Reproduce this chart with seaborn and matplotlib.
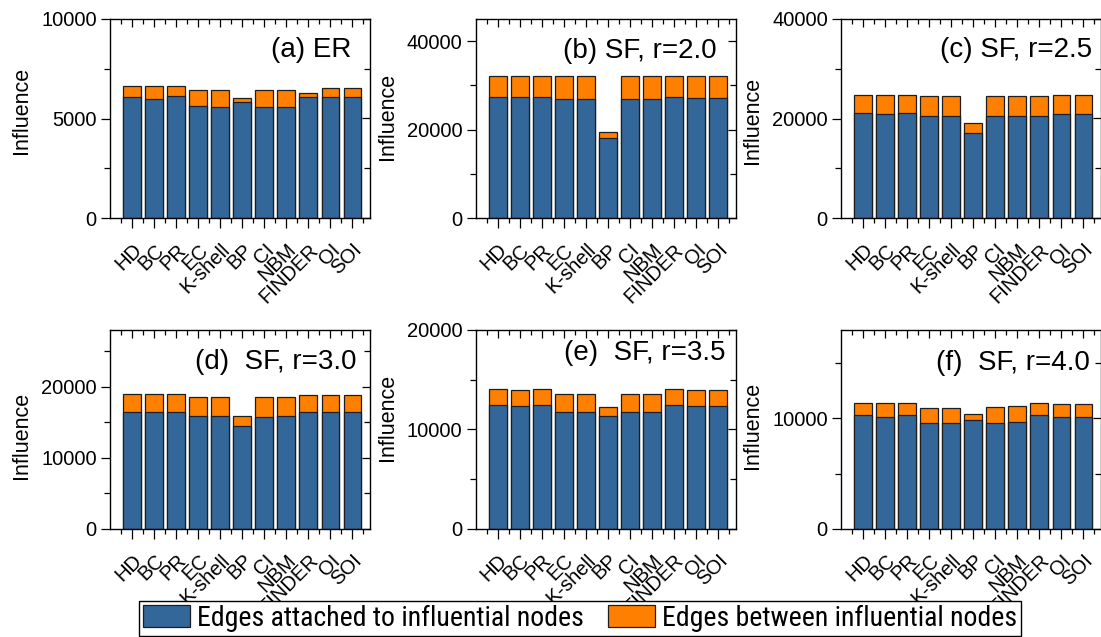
import matplotlib
matplotlib.use("Agg")
import matplotlib.pyplot as plt
import numpy as np
import pandas as pd
import seaborn as sns
from matplotlib.patches import Patch
from matplotlib.ticker import MultipleLocator, FixedLocator, NullFormatter
from matplotlib.font_manager import FontProperties, fontManager

# ---- data -------------------------------------------------------------
methods = ["HD", "BC", "PR", "EC", "K-shell", "BP", "CI", "NBM", "FINDER", "OI", "SOI"]

# Edges attached to influential nodes (lower segment)
er_attached = [6080, 5960, 6110, 5610, 5590, 5810, 5580, 5560, 6080, 6060, 6060]
sf20_attached = [27300, 27300, 27300, 26900, 26900, 18000, 26900, 26900, 27300, 27200, 27200]
sf25_attached = [21100, 21000, 21200, 20600, 20600, 17100, 20600, 20600, 20600, 21000, 21000]
sf30_attached = [16500, 16400, 16500, 15900, 15900, 14500, 15800, 15900, 16400, 16400, 16400]
sf35_attached = [12450, 12300, 12450, 11700, 11700, 11300, 11700, 11750, 12450, 12300, 12300]
sf40_attached = [10270, 10090, 10270, 9550, 9550, 9820, 9550, 9640, 10270, 10120, 10120]

# Edges between influential nodes (upper segment)
er_between = [550, 660, 520, 840, 860, 240, 850, 870, 220, 460, 460]
sf20_between = [4900, 4900, 4900, 5100, 5100, 1500, 5100, 5100, 4850, 4900, 4900]
sf25_between = [3700, 3800, 3600, 3900, 3900, 1900, 3900, 3900, 3900, 3700, 3700]
sf30_between = [2460, 2560, 2460, 2600, 2600, 1400, 2700, 2600, 2500, 2500, 2500]
sf35_between = [1650, 1700, 1650, 1900, 1900, 900, 1900, 1800, 1650, 1650, 1650]
sf40_between = [1120, 1270, 1150, 1420, 1420, 600, 1450, 1450, 1120, 1210, 1210]

panel_titles = ["(a) ER", "(b) SF, r=2.0", "(c) SF, r=2.5",
                "(d)  SF, r=3.0", "(e)  SF, r=3.5", "(f)  SF, r=4.0"]
y_tops = [10000, 45000, 40000, 28000, 20000, 18000]
y_majors = [5000, 20000, 20000, 10000, 10000, 10000]
y_minors = [2500, 10000, 10000, 5000, 5000, 5000]

legend_labels = ["Edges attached to influential nodes",
                 "Edges between influential nodes"]

attached_sets = [er_attached, sf20_attached, sf25_attached,
                 sf30_attached, sf35_attached, sf40_attached]
between_sets = [er_between, sf20_between, sf25_between,
                sf30_between, sf35_between, sf40_between]

# ---- style ------------------------------------------------------------
sns.set_theme(style="ticks")
plt.rcParams["font.family"] = ["Liberation Sans", "DejaVu Sans"]
plt.rcParams["axes.linewidth"] = 1.0
for key in ("text.color", "axes.labelcolor", "xtick.color", "ytick.color",
            "axes.edgecolor"):
    plt.rcParams[key] = "black"

BLUE = "#346799"
ORANGE = "#FF8000"
EDGE = "#1e1e1e"

# legend uses a narrow sans face when one is installed
legend_prop = FontProperties(family="Liberation Sans")
_fonts = {(f.name, f.stretch) for f in fontManager.ttflist}
for fam in ("Liberation Sans Narrow", "Arial Narrow", "Roboto Condensed"):
    if any(n == fam for n, _ in _fonts):
        legend_prop = FontProperties(family=fam)
        break
else:
    for fam in ("Noto Sans", "Open Sans"):
        if (fam, "condensed") in _fonts or (fam, 75) in _fonts:
            legend_prop = FontProperties(family=fam, stretch="condensed")
            break

fig = plt.figure(figsize=(11.01, 6.37), dpi=100)
W, H = 1101.0, 637.0

# size the legend text so the first entry spans about 388 px
_probe = fig.text(0, 0, legend_labels[0], fontproperties=legend_prop, fontsize=20)
_w = _probe.get_window_extent(renderer=fig.canvas.get_renderer()).width
_probe.remove()
legend_size = min(22.0, 20.0 * 388.0 / _w)
legend_px = legend_size * 100 / 72.0

lefts = [110, 475.7, 841]
row_top_px = [19, 330]
row_bottom_px = [218, 528.7]
ax_w = 260.0

title_pos = [(0.927, 0.844), (0.927, 0.84), (0.964, 0.844),
             (0.949, 0.84), (0.959, 0.883), (0.958, 0.832)]
ylabel_y = [0.54, 0.51, 0.49, 0.47, 0.56, 0.52]

for i in range(6):
    r, c = divmod(i, 3)
    left = lefts[c] / W
    bottom = (H - row_bottom_px[r]) / H
    height = (row_bottom_px[r] - row_top_px[r]) / H
    ax = fig.add_axes([left, bottom, ax_w / W, height])

    attached = np.array(attached_sets[i])
    between = np.array(between_sets[i])
    df = pd.DataFrame({"method": methods,
                       "attached": attached,
                       "total": attached + between})

    # full stack height in orange, attached part drawn over it in blue
    sns.barplot(data=df, x="method", y="total", color=ORANGE, saturation=1,
                edgecolor=EDGE, linewidth=0.9, width=0.8, ax=ax)
    sns.barplot(data=df, x="method", y="attached", color=BLUE, saturation=1,
                edgecolor=EDGE, linewidth=0.9, width=0.8, ax=ax)

    ax.set_xlim(-1, 10.8)
    ax.set_ylim(0, y_tops[i])
    ax.set_xlabel("")
    ax.set_ylabel("Influence", fontsize=15.5, color="black")
    ax.yaxis.set_label_coords(-0.30, ylabel_y[i])

    ax.set_xticks(range(len(methods)))
    ax.set_xticklabels(methods, rotation=45, ha="right", va="top",
                       rotation_mode="anchor", fontsize=14.5, color="black")
    ax.xaxis.set_minor_locator(FixedLocator(np.arange(-0.5, 11, 1.0)))
    ax.yaxis.set_major_locator(MultipleLocator(y_majors[i]))
    ax.yaxis.set_minor_locator(MultipleLocator(y_minors[i]))
    ax.tick_params(axis="y", which="major", direction="out", length=6.5,
                   width=0.9, labelsize=14.5, pad=3, colors="black")
    ax.tick_params(axis="y", which="minor", direction="out", length=4,
                   width=0.9, colors="black")
    ax.tick_params(axis="x", which="major", direction="out", length=7,
                   width=0.9, pad=9, colors="black")
    ax.tick_params(axis="x", which="minor", direction="out", length=3.8,
                   width=0.9, colors="black")
    for s in ax.spines.values():
        s.set_visible(True)
        s.set_color("black")
        s.set_linewidth(1.0)

    # mirrored inward ticks on the top and right frame edges
    top = ax.secondary_xaxis("top")
    top.set_xticks(range(len(methods)))
    top.xaxis.set_minor_locator(FixedLocator(np.arange(-0.5, 11, 1.0)))
    top.tick_params(which="major", direction="in", length=5.5, width=0.9,
                    labeltop=False, colors="black")
    top.tick_params(which="minor", direction="in", length=3.6, width=0.9,
                    colors="black")
    top.xaxis.set_major_formatter(NullFormatter())
    right = ax.secondary_yaxis("right")
    right.yaxis.set_major_locator(MultipleLocator(y_majors[i]))
    right.yaxis.set_minor_locator(MultipleLocator(y_minors[i]))
    right.tick_params(which="major", direction="in", length=6, width=0.9,
                      labelright=False, colors="black")
    right.tick_params(which="minor", direction="in", length=4, width=0.9,
                      colors="black")
    right.yaxis.set_major_formatter(NullFormatter())
    for sec in (top, right):
        for s in sec.spines.values():
            s.set_visible(False)

    tx, ty = title_pos[i]
    ax.text(tx, ty, panel_titles[i], transform=ax.transAxes, ha="right",
            va="center", fontsize=20, color="black")

handles = [Patch(facecolor=BLUE, edgecolor=EDGE, linewidth=0.9,
                 label=legend_labels[0]),
           Patch(facecolor=ORANGE, edgecolor=EDGE, linewidth=0.9,
                 label=legend_labels[1])]
legend_prop.set_size(legend_size)
leg = fig.legend(handles=handles, loc="lower center",
                 bbox_to_anchor=(580 / W, 1.0 / H), ncol=2, frameon=True,
                 fancybox=False, shadow=False, framealpha=1,
                 edgecolor="black", borderpad=4.0 / legend_px,
                 borderaxespad=0,
                 handlelength=47.0 / legend_px,
                 handleheight=23.0 / legend_px,
                 handletextpad=7.0 / legend_px,
                 columnspacing=24.0 / legend_px,
                 prop=legend_prop)
leg.get_frame().set_linewidth(1.0)
for t in leg.get_texts():
    t.set_color("black")

fig.savefig("out.png", dpi=100)
